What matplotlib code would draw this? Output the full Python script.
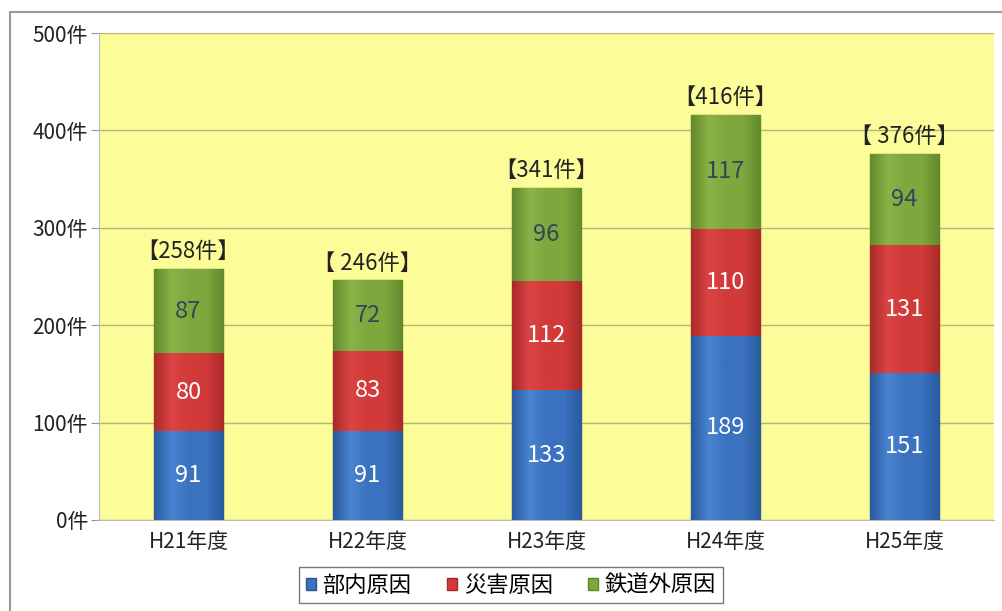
import numpy as np
import matplotlib.pyplot as plt
from matplotlib.patches import Rectangle
from matplotlib.colors import LinearSegmentedColormap

plt.rcParams['font.family'] = ['Noto Sans CJK JP', 'DejaVu Sans']

years = ['H21年度', 'H22年度', 'H23年度', 'H24年度', 'H25年度']
internal = [91, 91, 133, 189, 151]   # 部内原因
disaster = [80, 83, 112, 110, 131]   # 災害原因
external = [87, 72, 96, 117, 94]     # 鉄道外原因
totals = ['【258件】', '【 246件】', '【341件】', '【416件】', '【 376件】']
series_names = ['部内原因', '災害原因', '鉄道外原因']

fig = plt.figure(figsize=(10.03, 6.11), dpi=100)
# outer chart frame
fig.patches.append(Rectangle((10/1003, -0.1), 1.2, 1 - 12/611 + 0.1, transform=fig.transFigure,
                             fill=False, edgecolor='#9a9a9a', linewidth=1.5))
ax = fig.add_axes([99/1003, 1 - 520/611, 895/1003, 487/611])
ax.set_facecolor('#fcfc98')

x = np.arange(len(years))
w = 0.39
colors = ['#3a72c0', '#d23a3a', '#7ea83e']
lights = ['#4a84d0', '#dc4444', '#8ab448']
darks = ['#2a5b9e', '#ab2a2a', '#628a2c']
edges = ['#2a5590', '#a82828', '#5e8428']
txtc = ['white', 'white', '#2a4a58']
grad = np.linspace(0, 1, 64).reshape(1, -1)
bottom = np.zeros(len(years))
for vals, c, lt, dk, e, tc, name in zip([internal, disaster, external], colors, lights, darks,
                                        edges, txtc, series_names):
    bars = ax.bar(x, vals, w, bottom=bottom, color=c, edgecolor=e, linewidth=1, label=name, zorder=3)
    cm = LinearSegmentedColormap.from_list('g', [dk, lt, c, c, dk])
    for p in bars:
        im = ax.imshow(grad, cmap=cm, aspect='auto', zorder=3.5,
                       extent=(p.get_x(), p.get_x() + p.get_width(), p.get_y(), p.get_y() + p.get_height()))
        im.set_clip_path(p)
    for xi, b, v in zip(x, bottom, vals):
        ax.text(xi, b + v / 2, str(v), ha='center', va='center', color=tc, fontsize=17, zorder=4)
    bottom += np.array(vals)

for xi, tot, lab in zip(x, bottom, totals):
    ax.text(xi, tot + 6, lab, ha='center', va='bottom', fontsize=16, color='#222222')

ax.set_xlim(-0.5, len(years) - 0.5)
ax.set_ylim(0, 500)
ax.set_yticks(range(0, 501, 100))
ax.set_yticklabels([f'{v}件' for v in range(0, 501, 100)], fontsize=15, color='#222222')
ax.set_xticks(x)
ax.set_xticklabels(years, fontsize=15, color='#222222')
ax.tick_params(axis='y', length=6, color='#999999', pad=2)
ax.tick_params(axis='x', length=0, pad=8)
ax.grid(axis='y', color='#b8b47a', linewidth=1, zorder=0)
for s in ['top', 'right']:
    ax.spines[s].set_visible(False)
ax.spines['left'].set_color('#bbbbbb')
ax.spines['bottom'].set_color('#bbbbbb')

leg = fig.legend(loc='center', bbox_to_anchor=(511/1003, 1 - 585/611), ncol=3, fontsize=16,
                 frameon=True, fancybox=False, edgecolor='#555555', handlelength=0.45,
                 handleheight=0.45, handletextpad=0.3, columnspacing=1.6, borderpad=0.3)
leg.get_frame().set_linewidth(1)

fig.savefig('out.png', dpi=100)
